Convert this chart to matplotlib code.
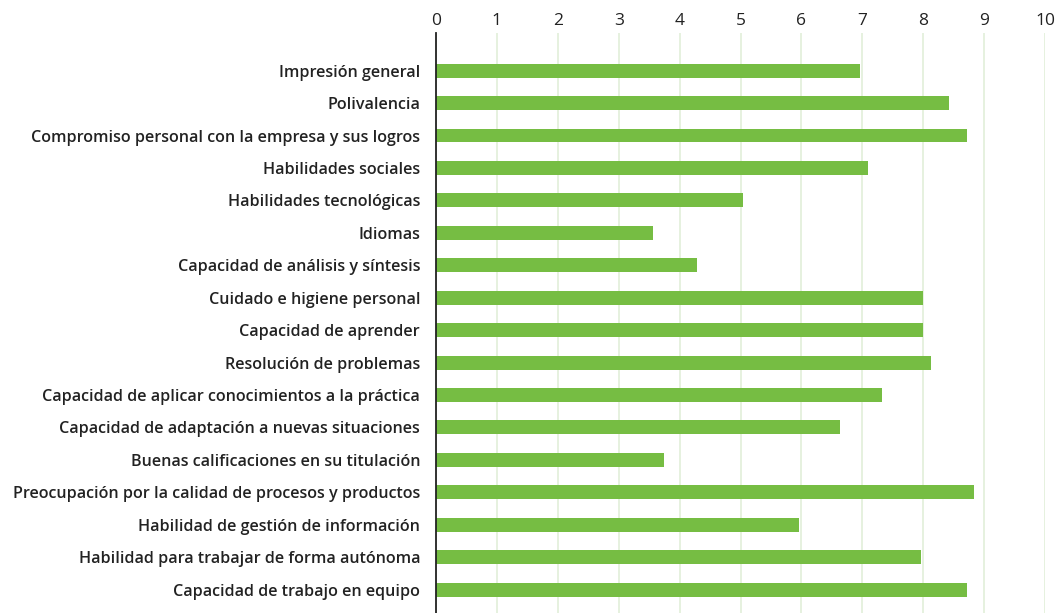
import matplotlib
matplotlib.use("Agg")
from matplotlib import pyplot as plt

# competencias valoradas (de arriba a abajo)
labels = [
    "Impresión general",
    "Polivalencia",
    "Compromiso personal con la empresa y sus logros",
    "Habilidades sociales",
    "Habilidades tecnológicas",
    "Idiomas",
    "Capacidad de análisis y síntesis",
    "Cuidado e higiene personal",
    "Capacidad de aprender",
    "Resolución de problemas",
    "Capacidad de aplicar conocimientos a la práctica",
    "Capacidad de adaptación a nuevas situaciones",
    "Buenas calificaciones en su titulación",
    "Preocupación por la calidad de procesos y productos",
    "Habilidad de gestión de información",
    "Habilidad para trabajar de forma autónoma",
    "Capacidad de trabajo en equipo",
]
values = [6.96, 8.42, 8.72, 7.09, 5.04, 3.57, 4.29, 8.00, 8.00, 8.13,
          7.33, 6.63, 3.74, 8.84, 5.96, 7.96, 8.72]
xticks = list(range(0, 11))

plt.rcParams["font.family"] = ["Open Sans", "DejaVu Sans"]

fig = plt.figure(figsize=(10.6, 6.13), dpi=100)
ax = fig.add_axes([436 / 1060, 0.0, (1045 - 436) / 1060, 1 - 33 / 613])

ax.barh(range(len(labels)), values, height=0.43, color="#76bd43", zorder=3)

ax.set_xlim(0, 10)
ax.set_ylim(16.72, -1.16)
ax.set_xticks(xticks)
ax.set_yticks(range(len(labels)))
ax.set_yticklabels(labels, fontsize=11.6, color="#222222", fontweight="semibold")
for t in ax.get_xticklabels():
    t.set_fontweight("semibold")
ax.xaxis.tick_top()
ax.tick_params(axis="x", length=0, labelsize=12.5, labelcolor="#222222", pad=3)
ax.tick_params(axis="y", length=0, pad=11.5)
ax.grid(axis="x", color="#e2efd9", linewidth=1.2, zorder=0)

for s in ["top", "right", "bottom"]:
    ax.spines[s].set_visible(False)
ax.spines["left"].set_color("#222222")
ax.spines["left"].set_linewidth(1.3)
ax.spines["left"].set_zorder(4)

fig.savefig("out.png", dpi=100)
